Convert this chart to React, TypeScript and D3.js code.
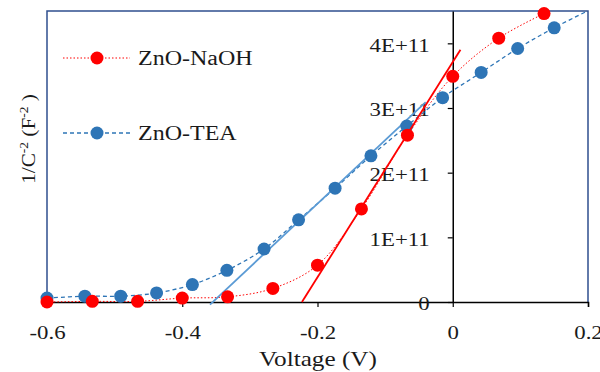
import React, { useEffect, useRef } from 'react';
import * as d3 from 'd3';

// ZnO-NaOH (red), units of 1E+11 F^-2
const naohV = [-0.6, -0.533, -0.466, -0.4, -0.333, -0.266, -0.2, -0.135, -0.067, 0, 0.068, 0.135];
const naohC = [0, 0.01, 0.01, 0.06, 0.08, 0.21, 0.57, 1.44, 2.58, 3.49, 4.08, 4.46];

// ZnO-TEA (blue); the last point sits just past the frame, only its line shows
const teaV = [-0.6, -0.544, -0.491, -0.438, -0.385, -0.334, -0.279, -0.228, -0.174, -0.121, -0.068, -0.015, 0.042, 0.096, 0.15, 0.205];
const teaC = [0.06, 0.09, 0.09, 0.14, 0.27, 0.49, 0.82, 1.27, 1.76, 2.26, 2.72, 3.16, 3.55, 3.92, 4.24, 4.53];

// linear fits (Mott-Schottky), endpoints [V, value]
const naohFit = [[-0.223, 0], [0.0114, 3.9]];
const teaFit = [[-0.359, -0.04], [-0.04, 3.09]];

const xTicks = [-0.6, -0.4, -0.2, 0, 0.2];
const yTicks = [0, 1, 2, 3, 4];
const yTickLabels = ['0', '1E+11', '2E+11', '3E+11', '4E+11'];

const RED = '#ff0000';
const BLUE = '#2e75b6';
const LIGHTBLUE = '#5b9bd5';
const FRAME = '#2f4f8f';
const INK = '#1a1a1a';
const FONT = "'Liberation Serif', 'DejaVu Serif', serif";
const STRETCH = 1.2; // the source image is a bit wide-stretched

function widen(sel) {
  sel.each(function () {
    const w = this.getComputedTextLength();
    d3.select(this).attr('textLength', w * STRETCH).attr('lengthAdjust', 'spacingAndGlyphs');
  });
}

export default function App() {
  const ref = useRef(null);

  useEffect(() => {
    const svg = d3.select(ref.current);
    svg.selectAll('*').remove();

    const left = 47, right = 588, top = 11, bottom = 302;
    const x = d3.scaleLinear().domain([-0.6, 0.2]).range([left, right]);
    const y = d3.scaleLinear().domain([0, 4.5]).range([bottom, top]);

    svg.append('defs').append('clipPath').attr('id', 'plot')
      .append('rect').attr('x', left).attr('y', top)
      .attr('width', right - left).attr('height', bottom - top + 4);

    // frame
    svg.append('path')
      .attr('d', `M${left},${bottom}V${top}H${right}V${bottom}`)
      .attr('fill', 'none').attr('stroke', FRAME).attr('stroke-width', 1.5);

    // x axis at y = 0
    const xAxis = svg.append('g')
      .attr('transform', `translate(0,${y(0)})`)
      .call(d3.axisBottom(x).tickValues(xTicks).tickSize(5).tickPadding(19)
        .tickFormat(d => d === 0 ? '0' : d3.format('.1f')(d).replace('−', '-')));
    xAxis.select('.domain').attr('stroke', '#000').attr('stroke-width', 1.5);
    xAxis.selectAll('line').attr('stroke', '#000').attr('stroke-width', 1.2);
    xAxis.selectAll('text').style('font-family', FONT).style('font-size', '19px').attr('fill', INK).call(widen);

    // y axis at V = 0
    const yAxis = svg.append('g')
      .attr('transform', `translate(${x(0)},0)`)
      .call(d3.axisLeft(y).tickValues(yTicks).tickSize(5).tickSizeOuter(0).tickPadding(18)
        .tickFormat((d, i) => yTickLabels[i]));
    yAxis.select('.domain').attr('stroke', '#000').attr('stroke-width', 1.5);
    yAxis.selectAll('line').attr('stroke', '#000').attr('stroke-width', 1.2);
    yAxis.selectAll('text').style('font-family', FONT).style('font-size', '19px').attr('fill', INK)
      .attr('dy', '0.42em').call(widen);

    const line = d3.line().curve(d3.curveCatmullRom).x(d => x(d[0])).y(d => y(d[1]));
    const naoh = naohV.map((v, i) => [v, naohC[i]]);
    const tea = teaV.map((v, i) => [v, teaC[i]]);

    const plot = svg.append('g').attr('clip-path', 'url(#plot)');
    plot.append('path').datum(naoh).attr('d', line)
      .attr('fill', 'none').attr('stroke', RED).attr('stroke-width', 1).attr('stroke-dasharray', '1.5 2');
    plot.append('path').datum(tea).attr('d', line)
      .attr('fill', 'none').attr('stroke', BLUE).attr('stroke-width', 1.3).attr('stroke-dasharray', '4 3');

    const straight = d3.line().x(d => x(d[0])).y(d => y(d[1]));
    svg.append('path').datum(teaFit).attr('d', straight)
      .attr('stroke', LIGHTBLUE).attr('stroke-width', 1.8).attr('fill', 'none');

    svg.append('g').selectAll('circle').data(tea.filter(d => d[0] <= 0.2)).join('circle')
      .attr('cx', d => x(d[0])).attr('cy', d => y(d[1])).attr('r', 6.5).attr('fill', BLUE);
    svg.append('g').selectAll('circle').data(naoh).join('circle')
      .attr('cx', d => x(d[0])).attr('cy', d => y(d[1])).attr('r', 6.5).attr('fill', RED);

    svg.append('path').datum(naohFit).attr('d', straight)
      .attr('stroke', RED).attr('stroke-width', 1.8).attr('fill', 'none');

    // legend
    const legend = [
      { name: 'ZnO-NaOH', color: RED, dash: '1.5 2', w: 1, y: 58 },
      { name: 'ZnO-TEA', color: BLUE, dash: '4 3', w: 1.3, y: 133 },
    ];
    const lg = svg.append('g').selectAll('g').data(legend).join('g')
      .attr('transform', d => `translate(0,${d.y})`);
    lg.append('line').attr('x1', 63).attr('x2', 130)
      .attr('stroke', d => d.color).attr('stroke-width', d => d.w).attr('stroke-dasharray', d => d.dash);
    lg.append('circle').attr('cx', 97).attr('r', 6.5).attr('fill', d => d.color);
    lg.append('text').attr('x', 138).attr('y', 7).text(d => d.name)
      .style('font-family', FONT).style('font-size', '20px').attr('fill', INK).call(widen);

    // axis titles
    svg.append('text').attr('x', 318).attr('y', 366).attr('text-anchor', 'middle')
      .style('font-family', FONT).style('font-size', '21px').attr('fill', INK).text('Voltage (V)')
      .call(widen);

    const yt = svg.append('text').attr('transform', 'translate(35,139) rotate(-90) scale(1.12,1)')
      .attr('text-anchor', 'middle').style('font-family', FONT).style('font-size', '19px').attr('fill', INK);
    yt.append('tspan').text('1/C');
    yt.append('tspan').attr('dy', -7).style('font-size', '12px').text('-2');
    yt.append('tspan').attr('dy', 7).text(' (F');
    yt.append('tspan').attr('dy', -7).style('font-size', '12px').text('-2');
    yt.append('tspan').attr('dy', 7).text(' )');
  }, []);

  return (
    <svg ref={ref} width={600} height={372}
      style={{ position: 'absolute', left: 0, top: 0, background: '#fff' }} />
  );
}
